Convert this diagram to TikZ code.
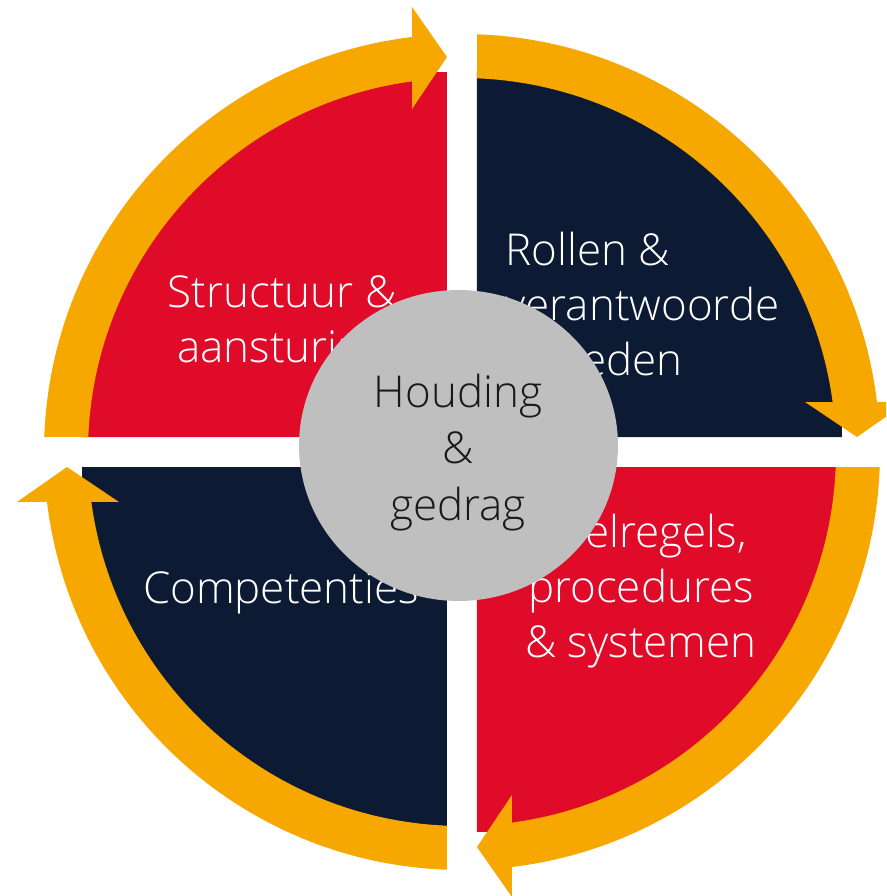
\documentclass[tikz,border=0pt]{standalone}
\usepackage{fontspec}
\setmainfont{Open Sans}[UprightFont=* Light]
\usetikzlibrary{shapes.geometric}
\definecolor{rood}{HTML}{E00A29}
\definecolor{navy}{HTML}{0C1B33}
\definecolor{oranje}{HTML}{F6A800}
\definecolor{grijs}{HTML}{BFBFBF}
\begin{document}
\begin{tikzpicture}[x=0.02cm, y=0.02cm,
            vlak/.style={fill=#1}, vlak/.default=rood,
            pijl/.style={fill=oranje},
            tekst/.style={text=white, font=\fontsize{25}{31.2}\selectfont, align=center, anchor=base, inner sep=0pt},
            kern/.style={ellipse, fill=grijs, minimum width=6.38cm, minimum height=6.22cm, inner sep=0pt},
        ]
        \useasboundingbox (-462,-444) rectangle (424,452);
        \clip (-462,-444) rectangle (424,452);
        % kwadranten
        \foreach \hoek/\kleur in {0/rood, -90/navy, -180/rood, -270/navy}
            \fill[vlak=\kleur, rotate=\hoek] (-15,15) -- ++(0,365) arc[start angle=90, end angle=180, radius=365] -- cycle;
        % pijlen rondom
        \foreach \hoek in {0,-90,-180,-270}
            \fill[pijl, rotate=\hoek] (177.94:418) -- (177.70:374)
                arc[start angle=177.70, end angle=97.68, radius=374]
                -- (-50,343) -- (-15,395) -- (-50,445) -- (96.87:418)
                arc[start angle=96.87, end angle=177.94, radius=418] -- cycle;
        % base = laatste regel
        \node[tekst] (structuur) at (-180,90) {Structuur \&\\aansturing};
        \node[tekst, align=left, anchor=base west] (rollen) at (43,77) {Rollen \&\\verantwoorde\\lijkheden};
        \node[tekst] (spelregels) at (179,-205) {Spelregels,\\procedures\\\& systemen};
        \node[tekst] (competenties) at (-181,-151) {Competenties};
        \node[kern] (midden) at (-3.5,6.5) {};
        \node[tekst, text=black!90, font=\fontsize{25}{32}\selectfont] (houding) at (-4,-68) {Houding\\\&\\gedrag};
    \end{tikzpicture}
\end{document}
